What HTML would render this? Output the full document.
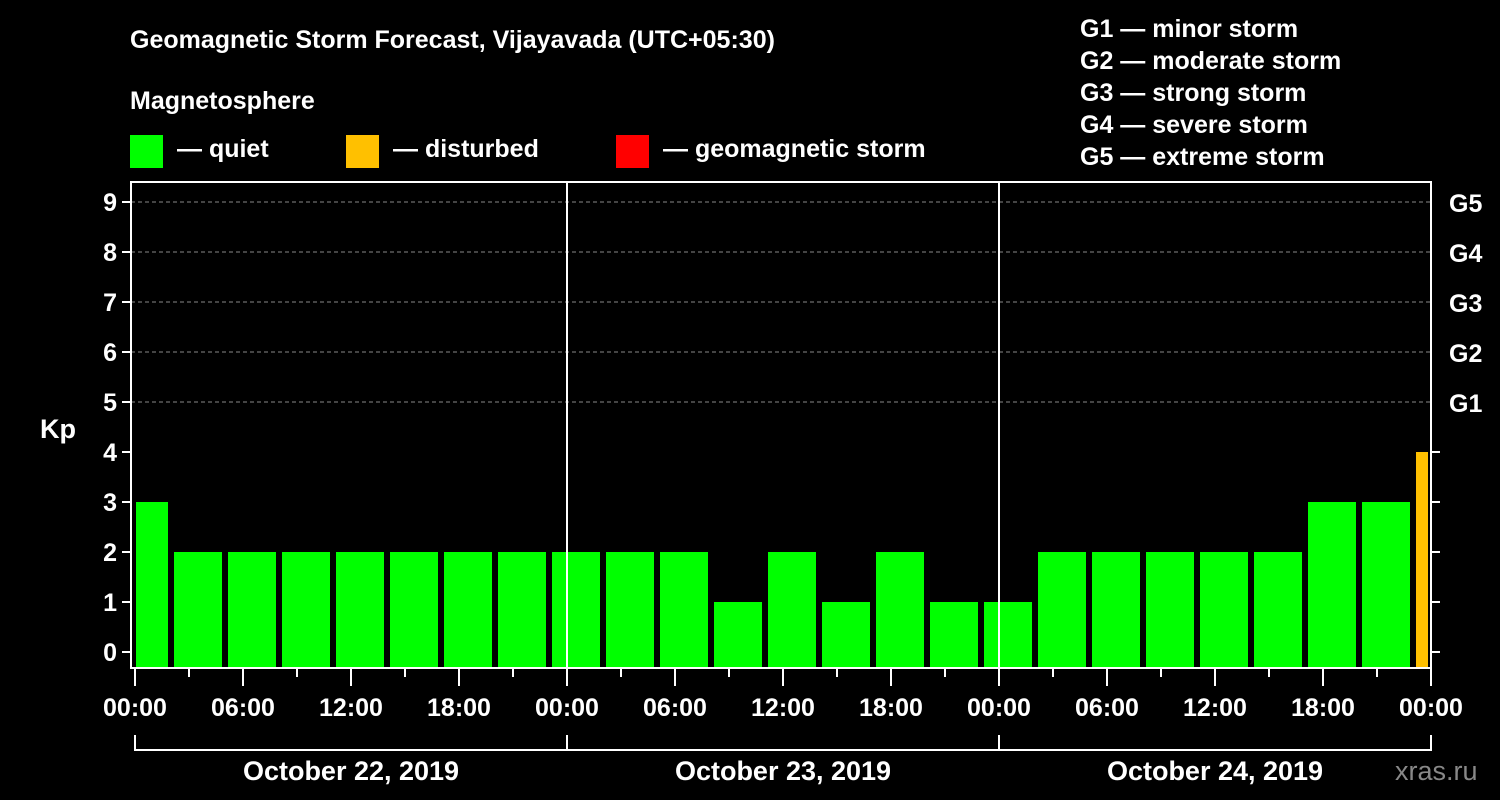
<!DOCTYPE html>
<html><head><meta charset="utf-8"><style>
body{margin:0;background:#000;}
svg{display:block;font-family:"Liberation Sans",Arial,sans-serif;font-weight:bold;}
</style></head><body>
<svg id="c" width="1500" height="800" viewBox="0 0 1500 800">
<text x="130" y="48" fill="#fff" font-size="25">Geomagnetic Storm Forecast, Vijayavada (UTC+05:30)</text>
<text x="130" y="109" fill="#fff" font-size="25">Magnetosphere</text>
<g><rect x="130" y="135" width="33" height="33" fill="#00ff00"/><text x="177" y="157" fill="#fff" font-size="25">— quiet</text></g>
<g><rect x="346" y="135" width="33" height="33" fill="#ffc000"/><text x="393" y="157" fill="#fff" font-size="25">— disturbed</text></g>
<g><rect x="616" y="135" width="33" height="33" fill="#ff0000"/><text x="663" y="157" fill="#fff" font-size="25">— geomagnetic storm</text></g>
<g fill="#fff" font-size="25">
<text x="1080" y="37">G1 — minor storm</text>
<text x="1080" y="69">G2 — moderate storm</text>
<text x="1080" y="101">G3 — strong storm</text>
<text x="1080" y="133">G4 — severe storm</text>
<text x="1080" y="165">G5 — extreme storm</text>
</g>
<text x="40" y="438" fill="#fff" font-size="27">Kp</text>
<text x="1395" y="780" fill="#888" font-size="27" font-weight="normal">xras.ru</text>
<g id="grid"></g><g id="bars"></g><g id="axes"></g>
</svg>
<script>
const values=[3,2,2,2,2,2,2,2,2,2,2,1,2,1,2,1,1,2,2,2,2,2,3,3,4];
const kpTicks=[0,1,2,3,4,5,6,7,8,9];
const gLabels=["G1","G2","G3","G4","G5"];
const timeLabels=["00:00","06:00","12:00","18:00","00:00","06:00","12:00","18:00","00:00","06:00","12:00","18:00","00:00"];
const dateLabels=["October 22, 2019","October 23, 2019","October 24, 2019"];
const NS="http://www.w3.org/2000/svg";
const X0=135,PXH=18,L=131,R=1431,T=182,B=668;
const x=h=>X0+h*PXH;
const y=k=>652-k*50;
function el(tag,attrs,parent,txt){const e=document.createElementNS(NS,tag);for(const k in attrs)e.setAttribute(k,attrs[k]);if(txt!==undefined)e.textContent=txt;parent.appendChild(e);return e;}
const grid=document.getElementById('grid'),bars=document.getElementById('bars'),axes=document.getElementById('axes');
kpTicks.forEach(k=>{
 if(k>=5){const g=el('line',{x1:L,x2:R,y1:y(k),y2:y(k),stroke:'#888','stroke-dasharray':'4,3','stroke-width':1},grid);
 
 }
 const t=el('line',{x1:L-9,x2:L,y1:y(k),y2:y(k),stroke:'#fff','stroke-width':2},axes);
 
 
 const lb=el('text',{x:L-14,y:y(k)+9,fill:'#fff','font-size':25,'text-anchor':'end'},axes,String(k));
 
 
 if(k<5){const rt=el('line',{x1:R,x2:R+9,y1:y(k),y2:y(k),stroke:'#fff','stroke-width':2},axes);
 
 }
 else{const gl=el('text',{x:R+18,y:y(k)+10,fill:'#fff','font-size':25},axes,gLabels[k-5]);
 
 }
});
values.forEach((v,i)=>{
 let h0=-1+3*i,h1=h0+3;
 let xa=Math.max(x(h0)+3,x(0)+1),xb=Math.min(x(h1)-3,x(72)-3);
 const color=v>=5?'#ff0000':(v>=4?'#ffc000':'#00ff00');
 const r=el('rect',{x:xa,y:y(v),width:xb-xa,height:B-y(v),fill:color},bars);
 
 
});
const frame=el('rect',{x:L,y:T,width:R-L,height:B-T,fill:'none',stroke:'#fff','stroke-width':2},axes);


[24,48].forEach(h=>{const d=el('line',{x1:x(h),x2:x(h),y1:T,y2:B,stroke:'#fff','stroke-width':2},axes);
 
 });
for(let h=0;h<=72;h+=3){const major=h%6===0;
 const t=el('line',{x1:x(h),x2:x(h),y1:B,y2:B+(major?18:9),stroke:'#fff','stroke-width':2},axes);
 
 }
timeLabels.forEach((s,i)=>{const t=el('text',{x:x(i*6),y:716,fill:'#fff','font-size':25,'text-anchor':'middle'},axes,s);
 
 });
const br=el('path',{d:`M${x(0)} 735V750H${x(72)}V735M${x(24)} 735V750M${x(48)} 735V750`,fill:'none',stroke:'#fff','stroke-width':2},axes);


dateLabels.forEach((s,i)=>{const t=el('text',{x:x(i*24+12),y:780,fill:'#fff','font-size':27,'text-anchor':'middle'},axes,s);
 
 });
</script>
</body></html>
